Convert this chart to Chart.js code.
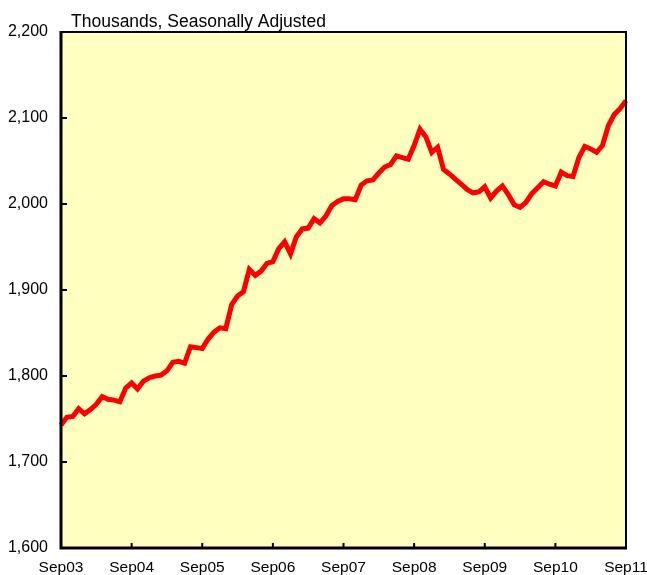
<!DOCTYPE html>
<html>
<head>
<meta charset="utf-8">
<script src="https://cdn.jsdelivr.net/npm/chart.js@4/dist/chart.umd.min.js"></script>
<style>
    body { margin: 0; background: #fff; }
    canvas { display: block; }
</style>
</head>
<body>
<canvas id="payrollChart" width="647" height="575"></canvas>
<script>
// monthly, Sep03 .. Sep11
const yearLabels = ['Sep03', 'Sep04', 'Sep05', 'Sep06', 'Sep07', 'Sep08', 'Sep09', 'Sep10', 'Sep11'];
const values = [
    1743, 1752, 1753, 1762, 1756, 1761, 1767, 1776, 1773, 1772, 1770, 1786,
    1792, 1785, 1794, 1798, 1800, 1801, 1806, 1816, 1817, 1815, 1834, 1833,
    1832, 1843, 1851, 1856, 1855, 1883, 1893, 1898, 1924, 1917, 1922, 1931,
    1933, 1948, 1956, 1942, 1962, 1971, 1972, 1983, 1978, 1986, 1998, 2003,
    2006, 2006, 2005, 2022, 2027, 2028, 2036, 2043, 2046, 2056, 2054, 2052,
    2068, 2087, 2078, 2060, 2066, 2040, 2035, 2029, 2023, 2017, 2013, 2014,
    2020, 2007, 2015, 2021, 2011, 1999, 1996, 2002, 2012, 2019, 2026, 2023,
    2021, 2037, 2033, 2032, 2054, 2067, 2064, 2060, 2068, 2091, 2104, 2111,
    2120
];
const yMin = 1600, yMax = 2200, yStep = 100;
const titleText = 'Thousands, Seasonally Adjusted';

// one label per month, only Sep of each year is shown
const labels = values.map((v, i) => i % 12 === 0 ? yearLabels[i / 12] : '');

const frame = {
    id: 'frame',
    beforeDraw(chart) {
        const {ctx, chartArea: a} = chart;
        ctx.save();
        ctx.fillStyle = '#FFFFC0';
        ctx.fillRect(a.left, a.top, a.right - a.left, a.bottom - a.top);
        ctx.restore();
    },
    afterDraw(chart) {
        const {ctx, chartArea: a, scales} = chart;
        ctx.save();
        ctx.strokeStyle = '#000';
        // top / right edges
        ctx.lineWidth = 2;
        ctx.beginPath();
        ctx.moveTo(a.left, a.top);
        ctx.lineTo(a.right, a.top);
        ctx.lineTo(a.right, a.bottom);
        ctx.stroke();
        // left / bottom axes
        ctx.lineWidth = 3;
        ctx.beginPath();
        ctx.moveTo(a.left, a.top - 1);
        ctx.lineTo(a.left, a.bottom);
        ctx.lineTo(a.right + 1, a.bottom);
        ctx.stroke();
        // inward ticks
        ctx.lineWidth = 2;
        ctx.beginPath();
        for (let v = yMin; v <= yMax; v += yStep) {
            const y = scales.y.getPixelForValue(v);
            ctx.moveTo(a.left, y);
            ctx.lineTo(a.left + 6, y);
        }
        labels.forEach((l, i) => {
            if (l === '') return;
            const x = scales.x.getPixelForValue(i);
            ctx.moveTo(x, a.bottom);
            ctx.lineTo(x, a.bottom - 5);
        });
        ctx.stroke();
        // title
        ctx.fillStyle = '#000';
        ctx.font = '17.5px "Liberation Sans", Arial, sans-serif';
        ctx.textBaseline = 'alphabetic';
        ctx.fillText(titleText, a.left + 10, 27);
        ctx.restore();
    }
};

new Chart(document.getElementById('payrollChart'), {
    type: 'line',
    data: {
        labels: labels,
        datasets: [{
            data: values,
            borderColor: '#FF0000',
            borderWidth: 5,
            pointRadius: 0,
            tension: 0,
            fill: false
        }]
    },
    options: {
        responsive: false,
        animation: false,
        layout: { padding: { top: 32, right: 21, left: 0, bottom: 0 } },
        plugins: { legend: { display: false }, tooltip: { enabled: false } },
        scales: {
            x: {
                offset: false,
                grid: { display: false, drawTicks: false },
                border: { display: false },
                afterFit(scale) {
                    scale.height = 27;
                    scale.paddingLeft = 0;
                    scale.paddingRight = 0;
                },
                ticks: {
                    autoSkip: false,
                    maxRotation: 0,
                    padding: 10,
                    color: '#000',
                    font: { family: '"Liberation Sans", Arial, sans-serif', size: 15.5 }
                }
            },
            y: {
                min: yMin,
                max: yMax,
                grid: { display: false, drawTicks: false },
                border: { display: false },
                afterFit(scale) { scale.width = 61; },
                ticks: {
                    stepSize: yStep,
                    padding: 13,
                    color: '#000',
                    font: { family: '"Liberation Sans", Arial, sans-serif', size: 16 },
                    callback: v => v.toLocaleString('en-US')
                }
            }
        }
    },
    plugins: [frame]
});
</script>
</body>
</html>
